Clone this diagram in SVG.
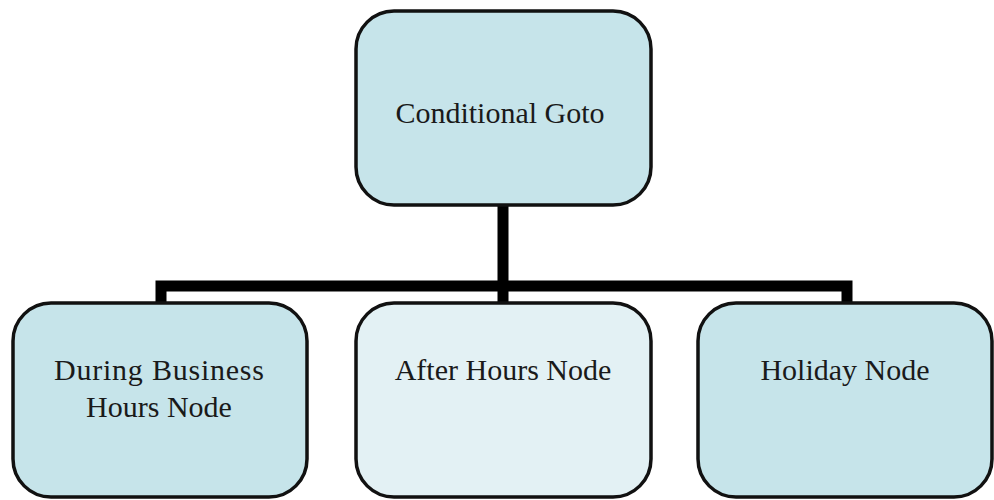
<svg xmlns="http://www.w3.org/2000/svg" width="994" height="500" viewBox="0 0 994 500">
  <style>
    .box { stroke: #111; stroke-width: 3.5; fill: #c6e4ea; }
    .box.light { fill: #e3f1f4; }
    .lbl { font-family: "Liberation Serif", "Times New Roman", serif; font-size: 30px; fill: #1a1a1a; text-anchor: middle; }
    .wire { stroke: #000; stroke-width: 11; fill: none; stroke-linejoin: miter; }
  </style>
  <rect width="994" height="500" fill="#fff"/>

  <!-- tree connectors -->
  <g id="connectors">
    <path class="wire" d="M503,205 V303"/>
    <path class="wire" d="M161,303 V286 H847 V303"/>
  </g>

  <g id="node-conditional-goto">
    <rect class="box" x="356" y="11" width="295" height="194" rx="38" ry="38"/>
    <text class="lbl" x="500" y="123">Conditional Goto</text>
  </g>

  <g id="node-business-hours">
    <rect class="box" x="13" y="303" width="294" height="194" rx="38" ry="38"/>
    <text class="lbl" x="159" y="380" textLength="210" lengthAdjust="spacing">During Business</text>
    <text class="lbl" x="159" y="417">Hours Node</text>
  </g>

  <g id="node-after-hours">
    <rect class="box light" x="356" y="303" width="295" height="194" rx="38" ry="38"/>
    <text class="lbl" x="503" y="380">After Hours Node</text>
  </g>

  <g id="node-holiday">
    <rect class="box" x="698" y="303" width="294" height="194" rx="38" ry="38"/>
    <text class="lbl" x="845" y="380">Holiday Node</text>
  </g>
</svg>
